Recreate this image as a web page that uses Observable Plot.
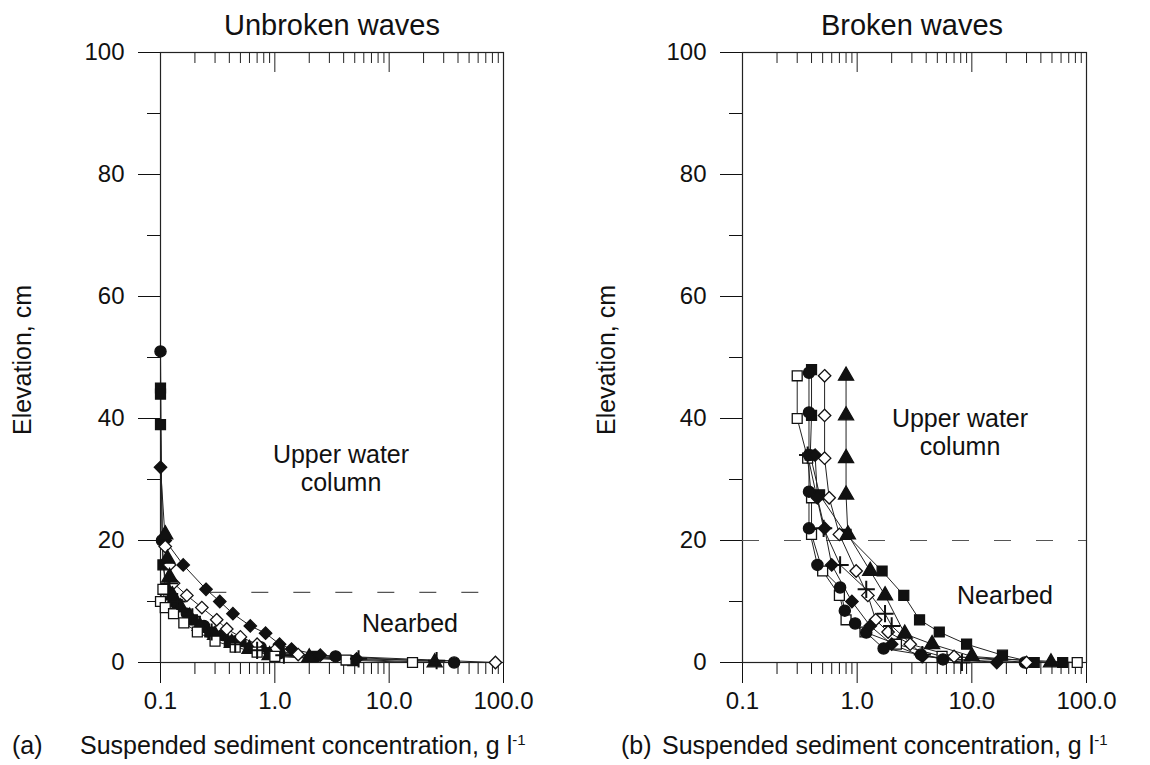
<!DOCTYPE html>
<html><head><meta charset="utf-8">
<script src="https://cdn.jsdelivr.net/npm/d3@7"></script>
<script src="https://cdn.jsdelivr.net/npm/@observablehq/plot@0.6"></script>
<style>
body{margin:0;background:#fff;font-family:"Liberation Sans",Arial,sans-serif;color:#111;}
#wrap{position:relative;width:1150px;height:765px;overflow:hidden;}
.t{position:absolute;white-space:nowrap;line-height:1;}
.c{transform:translate(-50%,-50%);text-align:center;}
.l{transform:translate(0,-50%);}
.r{transform:translate(-50%,-50%) rotate(-90deg);}
sup{font-size:60%;vertical-align:0.55em;}
svg{position:absolute;top:0;}
</style></head><body><div id="wrap"></div>
<script>
// ---- axis ticks ----
const xTicksMajor = [0.1, 1, 10, 100];
const xTicksMinor = [0.2,0.3,0.4,0.5,0.6,0.7,0.8,0.9,2,3,4,5,6,7,8,9,20,30,40,50,60,70,80,90];
const xTopMajorInner = [1, 10];
const yTicksMajor = [0, 20, 40, 60, 80, 100];
const yTicksMinor = [10, 30, 50, 70, 90];

// ---- (a) Unbroken waves: concentration (g/l) and elevation (cm) ----
const aFilledCircleConc = [0.1, 0.103, 0.11, 0.13, 0.17, 0.24, 0.35, 0.5, 0.75, 1.1, 3.4, 37];
const aFilledCircleElev = [51, 20, 12, 10, 8, 6, 4.5, 3.5, 2.5, 1.5, 1, 0];
const aFilledSquareConc = [0.1, 0.1, 0.1, 0.105, 0.115, 0.14, 0.19, 0.27, 0.4, 0.6, 0.9, 2.2, 4.8];
const aFilledSquareElev = [45, 44, 39, 16, 12, 9.5, 7, 5, 3.5, 2.3, 1.6, 1, 0.3];
const aFilledDiamondConc = [0.1, 0.11, 0.158, 0.25, 0.33, 0.43, 0.61, 0.83, 1.1, 1.4, 2.5, 5.2];
const aFilledDiamondElev = [32, 20, 16, 12, 10, 8, 6, 4.8, 3, 2.2, 1.2, 0.6];
const aOpenDiamondConc = [0.11, 0.12, 0.13, 0.17, 0.23, 0.31, 0.38, 0.5, 0.7, 1.0, 1.6, 85];
const aOpenDiamondElev = [19, 16, 13, 11, 9, 7, 5.5, 4.2, 3, 2, 1.3, 0];
const aFilledTriangleConc = [0.11, 0.115, 0.12, 0.127, 0.15, 0.18, 0.22, 0.3, 0.42, 0.6, 0.9, 2.0, 25];
const aFilledTriangleElev = [21, 17, 14, 11, 9, 7.5, 6, 4.5, 3.2, 2.2, 1.2, 0.8, 0];
const aOpenSquareConc = [0.1, 0.105, 0.11, 0.13, 0.16, 0.21, 0.3, 0.45, 0.7, 1.0, 4.2, 16];
const aOpenSquareElev = [10, 12, 9, 8, 6.5, 5, 3.5, 2.5, 1.7, 1, 0.4, 0];
const aPlusConc = [0.12, 0.14, 0.19, 0.28, 0.45, 0.7, 1.2, 5.4, 26];
const aPlusElev = [13, 10, 7.5, 5, 3, 2, 1.2, 0.6, 0.3];
const aBoundaryElev = [11.5];

// ---- (b) Broken waves ----
const bOpenSquareConc = [0.3, 0.3, 0.37, 0.4, 0.4, 0.5, 0.7, 0.8, 1.17, 2.2, 5.5, 83];
const bOpenSquareElev = [47, 40, 33.5, 27, 21, 15, 11, 7, 5, 3, 1, 0];
const bFilledSquareConc = [0.4, 0.4, 0.39, 0.47, 0.8, 1.65, 2.55, 3.5, 5.2, 9, 18.5, 35, 62];
const bFilledSquareElev = [48, 40.5, 34, 27.5, 21, 15, 11, 7, 5, 3, 1.2, 0, 0];
const bFilledCircleConc = [0.38, 0.38, 0.38, 0.38, 0.38, 0.45, 0.71, 0.78, 0.96, 1.2, 1.7, 3.6, 5.6, 29];
const bFilledCircleElev = [47.5, 41, 34, 28, 22, 16, 12.3, 8.5, 6.4, 4.9, 2.3, 1.3, 0.5, 0];
const bOpenDiamondConc = [0.52, 0.52, 0.52, 0.57, 0.7, 0.98, 1.24, 1.45, 1.86, 2.9, 7, 30];
const bOpenDiamondElev = [47, 40.5, 33.5, 27, 21, 15, 11, 7, 5, 3, 1, 0];
const bFilledTriangleConc = [0.8, 0.8, 0.8, 0.8, 0.83, 1.3, 1.75, 2.6, 4.5, 10, 49];
const bFilledTriangleElev = [47, 40.5, 33.5, 27.5, 21, 15, 11, 4.7, 3, 1, 0];
const bPlusConc = [0.37, 0.51, 0.71, 1.2, 1.75, 2.0, 3.7, 8.2];
const bPlusElev = [34, 22, 16, 12, 8, 6, 1.3, 0];
const bFilledDiamondConc = [0.43, 0.45, 0.52, 0.6, 0.9, 1.3, 2.0, 3.7, 16.5];
const bFilledDiamondElev = [34, 27, 22, 16, 10, 6, 3, 1, 0];
const bBoundaryElev = [20];

// ---- marker styles ----
const markerStyle = {
  filledCircle: {symbol: "circle", fill: "#111"},
  filledSquare: {symbol: "square", fill: "#111"},
  filledDiamond: {symbol: "diamond2", fill: "#111"},
  openDiamond: {symbol: "diamond2", fill: "#fff"},
  filledTriangle: {symbol: "triangle", fill: "#111"},
  openSquare: {symbol: "square", fill: "#fff"},
  plus: {symbol: "plus", fill: "none"}
};

function build(kind, conc, elev) {
  return conc.map((c, i) => ({kind, conc: c, elev: elev[i]}));
}
const seriesA = [
  build("filledCircle", aFilledCircleConc, aFilledCircleElev),
  build("filledSquare", aFilledSquareConc, aFilledSquareElev),
  build("filledDiamond", aFilledDiamondConc, aFilledDiamondElev),
  build("openDiamond", aOpenDiamondConc, aOpenDiamondElev),
  build("filledTriangle", aFilledTriangleConc, aFilledTriangleElev),
  build("openSquare", aOpenSquareConc, aOpenSquareElev),
  build("plus", aPlusConc, aPlusElev)
];
const seriesB = [
  build("openSquare", bOpenSquareConc, bOpenSquareElev),
  build("filledSquare", bFilledSquareConc, bFilledSquareElev),
  build("filledCircle", bFilledCircleConc, bFilledCircleElev),
  build("openDiamond", bOpenDiamondConc, bOpenDiamondElev),
  build("filledTriangle", bFilledTriangleConc, bFilledTriangleElev),
  build("plus", bPlusConc, bPlusElev),
  build("filledDiamond", bFilledDiamondConc, bFilledDiamondElev)
];

function panel(series, boundary, bx1, bx2, mL, mR) {
  const marks = [
    Plot.axisY({ticks: yTicksMajor, tickSize: 22, tickPadding: 14, fontSize: 24, tickFormat: d => String(d), label: null}),
    Plot.axisY({ticks: yTicksMinor, tickSize: 13, fill: "none", label: null}),
    Plot.axisX({ticks: xTicksMajor, tickSize: 21, tickPadding: 8, fontSize: 24, tickFormat: d => d.toFixed(1), label: null}),
    Plot.axisX({ticks: xTicksMinor, tickSize: 12, fill: "none", label: null}),
    Plot.ruleX(xTicksMinor, {x: d => d, y1: 100, y2: 100, insetBottom: -11, stroke: "#222"}),
    Plot.ruleX(xTopMajorInner, {x: d => d, y1: 100, y2: 100, insetBottom: -20, stroke: "#222"}),
    Plot.frame({stroke: "#222", strokeWidth: 1.2}),
    Plot.ruleY(boundary, {y: d => d, x1: bx1, x2: bx2, stroke: "#555", strokeWidth: 1.2, strokeDasharray: "17,25"})
  ];
  for (const s of series) {
    marks.push(Plot.line(s, {x: "conc", y: "elev", stroke: "#222", strokeWidth: 1}));
  }
  for (const s of series) {
    const st = markerStyle[s[0].kind];
    marks.push(Plot.dot(s, {x: "conc", y: "elev", symbol: () => st.symbol, r: 5.6,
      fill: st.fill, stroke: "#111", strokeWidth: st.symbol === "plus" ? 2 : 1.3}));
  }
  return Plot.plot({
    width: 575, height: 720,
    marginLeft: mL, marginRight: mR, marginTop: 52, marginBottom: 58,
    style: {fontFamily: '"Liberation Sans", Arial, sans-serif', color: "#111", background: "transparent"},
    x: {type: "log", domain: [0.1, 100]},
    y: {domain: [0, 100]},
    symbol: {type: "identity"},
    marks
  });
}

const wrap = document.getElementById("wrap");
const p1 = panel(seriesA, aBoundaryElev, 0.27, 70, 160, 72);
p1.style.left = "0px";
wrap.appendChild(p1);
const p2 = panel(seriesB, bBoundaryElev, 0.1, 100, 167, 64);
p2.style.left = "575px";
wrap.appendChild(p2);

function addText(html, x, y, size, cls) {
  const d = document.createElement("div");
  d.className = "t " + cls;
  d.style.left = x + "px"; d.style.top = y + "px"; d.style.fontSize = size + "px";
  d.innerHTML = html;
  wrap.appendChild(d);
}
addText("Unbroken waves", 332, 25, 29, "c");
addText("Broken waves", 912, 25, 29, "c");
addText("Elevation, cm", 22, 360, 25, "r");
addText("Elevation, cm", 606, 360, 25, "r");
addText("Upper water", 341, 454, 25, "c");
addText("column", 341, 482, 25, "c");
addText("Upper water", 960, 418, 25, "c");
addText("column", 960, 446, 25, "c");
addText("Nearbed", 410, 623, 25, "c");
addText("Nearbed", 1005, 595, 25, "c");
addText("(a)", 12, 745, 25, "l");
addText("Suspended sediment concentration, g l<sup>-1</sup>", 80, 745, 25, "l");
addText("(b)", 621, 745, 25, "l");
addText("Suspended sediment concentration, g l<sup>-1</sup>", 662, 745, 25, "l");
</script>
</body></html>
